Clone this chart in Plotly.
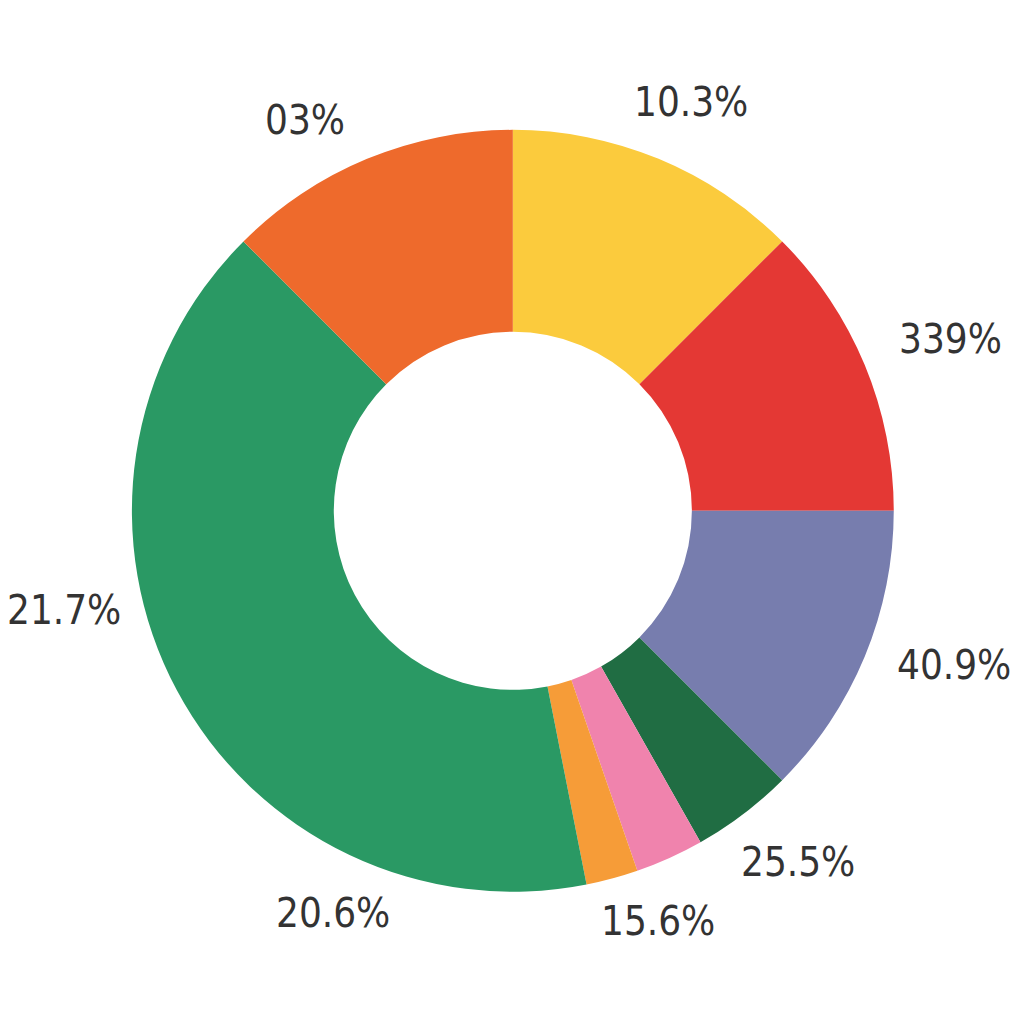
import plotly.graph_objects as go

# slices clockwise from 12 o'clock
slice_names = ["Yellow", "Red", "Slate", "Dark green", "Pink", "Light orange", "Green", "Orange"]
slice_values = [12.5, 12.5, 12.5, 4.3, 2.9, 2.2, 40.6, 12.5]
slice_labels = ["10.3%", "339%", "40.9%", "25.5%", "15.6%", "20.6%", "21.7%", "03%"]
slice_colors = ["#FBCB3D", "#E43834", "#777DAE", "#206D43", "#F083AD", "#F69C38", "#2A9964", "#EE6A2C"]

# where each label sits on the page (paper coords)
label_x = [0.667, 0.920, 0.924, 0.771, 0.635, 0.317, 0.055, 0.290]
label_y = [0.908, 0.677, 0.358, 0.166, 0.108, 0.116, 0.412, 0.891]

fig = go.Figure()
fig.add_trace(go.Pie(
    labels=slice_names,
    values=slice_values,
    textinfo="none",
    hole=0.47,
    sort=False,
    direction="clockwise",
    rotation=0,
    marker=dict(colors=slice_colors, line=dict(width=0)),
    domain=dict(x=[0.121, 0.865], y=[0.137, 0.881]),
    showlegend=False,
    hoverinfo="label+percent",
))

for txt, x, y in zip(slice_labels, label_x, label_y):
    fig.add_annotation(
        x=x, y=y, xref="paper", yref="paper",
        text=txt, showarrow=False,
        xanchor="center", yanchor="middle",
        font=dict(family="DejaVu Sans Condensed, Roboto, Liberation Sans", size=40, color="#333333"),
    )

fig.update_layout(
    width=1024, height=1024,
    margin=dict(l=0, r=0, t=0, b=0),
    paper_bgcolor="white",
    plot_bgcolor="white",
)
fig.write_html("out.html")
